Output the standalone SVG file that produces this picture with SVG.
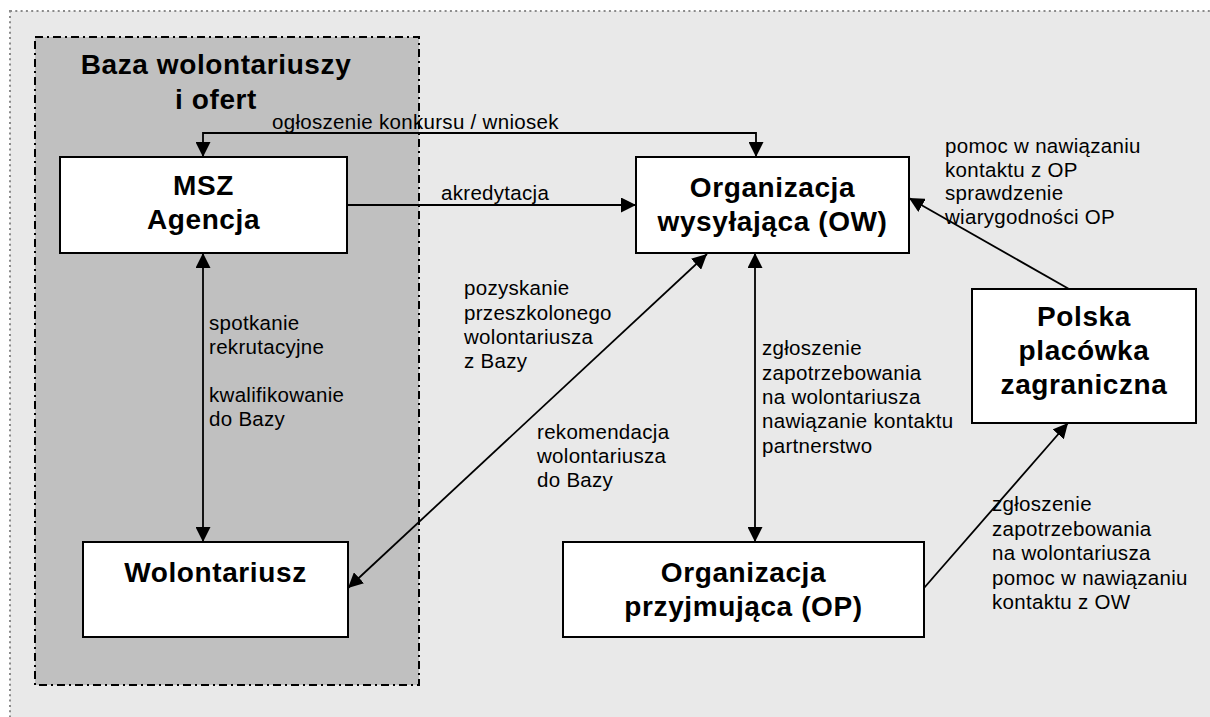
<svg xmlns="http://www.w3.org/2000/svg" width="1210" height="717" viewBox="0 0 1210 717">
  <style>
    .frame { fill: #e9e9e9; stroke: #8a8a8a; stroke-width: 2; stroke-dasharray: 2 3.3; }
    .base { fill: #c0c0c0; stroke: #000; stroke-width: 2; stroke-dasharray: 8 4 2 4; }
    .box { fill: #fff; stroke: #000; stroke-width: 2; }
    .title { font-family: "Liberation Sans", Arial, sans-serif; font-weight: bold; font-size: 28px; letter-spacing: 0.6px; fill: #000; text-anchor: middle; }
    .lbl { font-family: "Liberation Sans", Arial, sans-serif; font-size: 20.5px; letter-spacing: 0.3px; fill: #000; }
    .conn { fill: none; stroke: #000; stroke-width: 1.8; }
  </style>
  <defs>
    <marker id="arrow" viewBox="0 0 15 15" refX="15" refY="7.5" markerWidth="15" markerHeight="15" markerUnits="userSpaceOnUse" orient="auto-start-reverse">
      <path d="M0,0 L15,7.5 L0,15 Z" fill="#000"/>
    </marker>
  </defs>

  <!-- page frame -->
  <rect class="frame" x="10" y="11" width="1210" height="720"/>

  <!-- volunteer database area -->
  <g id="baza">
    <rect class="base" x="35" y="37" width="384" height="648"/>
    <text class="title" x="216" y="74">Baza wolontariuszy</text>
    <text class="title" x="216" y="109">i ofert</text>
  </g>

  <g id="msz">
    <rect class="box" x="60" y="157" width="287" height="96"/>
    <text class="title" x="203.5" y="195">MSZ</text>
    <text class="title" x="203.5" y="229">Agencja</text>
  </g>

  <g id="ow">
    <rect class="box" x="636" y="157" width="273" height="96"/>
    <text class="title" x="772.5" y="197">Organizacja</text>
    <text class="title" x="772.5" y="231">wysyłająca (OW)</text>
  </g>

  <g id="polska">
    <rect class="box" x="972" y="289" width="224" height="134"/>
    <text class="title" x="1084" y="326">Polska</text>
    <text class="title" x="1084" y="360">placówka</text>
    <text class="title" x="1084" y="394">zagraniczna</text>
  </g>

  <g id="wolontariusz">
    <rect class="box" x="83" y="542" width="265" height="95"/>
    <text class="title" x="215.5" y="582">Wolontariusz</text>
  </g>

  <g id="op">
    <rect class="box" x="563" y="542" width="361" height="95"/>
    <text class="title" x="743.5" y="582">Organizacja</text>
    <text class="title" x="743.5" y="616">przyjmująca (OP)</text>
  </g>

  <!-- connectors -->
  <g id="connectors">
    <path class="conn" d="M203,157 V133 H756 V157" marker-start="url(#arrow)" marker-end="url(#arrow)"/>
    <line class="conn" x1="347" y1="205" x2="636" y2="205" marker-end="url(#arrow)"/>
    <line class="conn" x1="203" y1="253" x2="203" y2="542" marker-start="url(#arrow)" marker-end="url(#arrow)"/>
    <line class="conn" x1="348" y1="588" x2="707" y2="254" marker-start="url(#arrow)" marker-end="url(#arrow)"/>
    <line class="conn" x1="755" y1="253" x2="755" y2="542" marker-start="url(#arrow)" marker-end="url(#arrow)"/>
    <line class="conn" x1="1069" y1="289" x2="909" y2="198" marker-end="url(#arrow)"/>
    <line class="conn" x1="924" y1="588" x2="1068" y2="423" marker-end="url(#arrow)"/>
  </g>

  <!-- connector labels -->
  <g id="labels">
    <text class="lbl" x="272" y="129">ogłoszenie konkursu / wniosek</text>
    <text class="lbl" x="441" y="200">akredytacja</text>
    <text class="lbl" x="945" y="153">pomoc w nawiązaniu</text>
    <text class="lbl" x="945" y="176.5">kontaktu z OP</text>
    <text class="lbl" x="945" y="200">sprawdzenie</text>
    <text class="lbl" x="945" y="223.5">wiarygodności OP</text>
    <text class="lbl" x="209" y="330">spotkanie</text>
    <text class="lbl" x="209" y="354">rekrutacyjne</text>
    <text class="lbl" x="209" y="402">kwalifikowanie</text>
    <text class="lbl" x="209" y="426">do Bazy</text>
    <text class="lbl" x="464" y="295">pozyskanie</text>
    <text class="lbl" x="464" y="319.5">przeszkolonego</text>
    <text class="lbl" x="464" y="344">wolontariusza</text>
    <text class="lbl" x="464" y="368">z Bazy</text>
    <text class="lbl" x="537" y="439">rekomendacja</text>
    <text class="lbl" x="537" y="463">wolontariusza</text>
    <text class="lbl" x="537" y="487">do Bazy</text>
    <text class="lbl" x="762" y="355">zgłoszenie</text>
    <text class="lbl" x="762" y="379.5">zapotrzebowania</text>
    <text class="lbl" x="762" y="404">na wolontariusza</text>
    <text class="lbl" x="762" y="428">nawiązanie kontaktu</text>
    <text class="lbl" x="762" y="452.5">partnerstwo</text>
    <text class="lbl" x="992" y="511">zgłoszenie</text>
    <text class="lbl" x="992" y="535.5">zapotrzebowania</text>
    <text class="lbl" x="992" y="560">na wolontariusza</text>
    <text class="lbl" x="992" y="584.5">pomoc w nawiązaniu</text>
    <text class="lbl" x="992" y="608.5">kontaktu z OW</text>
  </g>
</svg>
